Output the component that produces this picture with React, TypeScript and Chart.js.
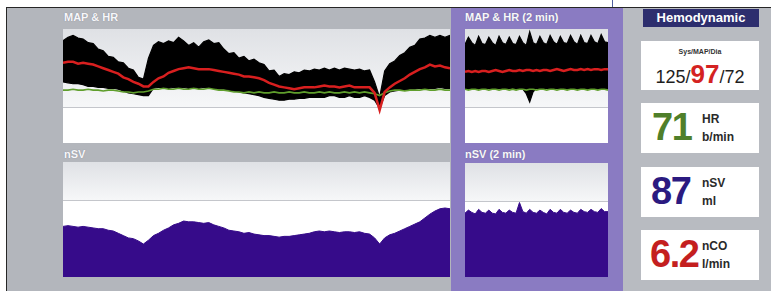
import React, { useEffect, useRef } from "react";
import { Chart, registerables } from "chart.js";

Chart.register(...registerables);

// ---- Trend (long window) data ----
const mapSys = [
  122, 126, 128, 125, 124, 120, 119, 113, 111, 105,
  104, 99, 98, 92, 90, 82, 80, 103, 117, 121,
  119, 122, 120, 126, 122, 117, 120, 115, 121, 123,
  119, 120, 113, 108, 109, 103, 105, 100, 102, 98,
  96, 89, 90, 83, 86, 85, 88, 87, 90, 89,
  91, 90, 92, 90, 92, 90, 92, 91, 90, 91,
  89, 90, 77, 60, 89, 97, 100, 106, 109, 115,
  117, 124, 125, 128, 126, 128, 126, 128,
];
const mapDia = [
  77, 76, 75, 75, 74, 72, 72, 71, 71, 70,
  70, 69, 67, 65, 64, 63, 62, 62, 70, 71,
  71, 70, 71, 70, 71, 70, 71, 70, 71, 70,
  70, 69, 69, 68, 67, 66, 65, 64, 63, 62,
  60, 59, 58, 57, 57, 58, 58, 59, 59, 60,
  60, 60, 60, 62, 62, 60, 60, 62, 60, 60,
  62, 60, 57, 48, 62, 66, 67, 68, 68, 69,
  69, 70, 70, 70, 70, 71, 70, 70,
];
const mapMean = [
  98, 99, 99, 97, 98, 97, 96, 94, 92, 90,
  88, 86, 82, 80, 77, 75, 72, 72, 77, 81,
  83, 87, 89, 91, 92, 93, 92, 91, 91, 91,
  90, 89, 88, 87, 86, 85, 83, 83, 82, 81,
  79, 76, 74, 72, 71, 70, 69, 70, 71, 71,
  71, 72, 73, 72, 72, 71, 72, 73, 71, 71,
  71, 71, 65, 46, 66, 71, 75, 78, 81, 85,
  88, 91, 93, 96, 94, 95, 93, 92,
];
const hrTrend = [
  68, 68, 69, 68, 68, 69, 68, 68, 67, 68, 68, 67,
  66, 66, 65, 66, 66, 67,
  69, 69, 70, 69, 69, 70, 69, 69, 70, 69, 69, 70, 69, 68, 68, 67,
  66, 66, 65, 66, 65, 66, 65, 65, 66, 65, 65, 66, 65, 65, 66, 65, 65, 66, 65, 66, 65, 65, 66, 65, 66, 65, 66, 65,
  64, 62, 65,
  67, 68, 68, 67, 68, 68, 68, 69, 68, 68, 69, 68, 68,
];
const nsvTrend = [
  66, 67, 66, 65, 66, 65, 64, 63, 63, 61,
  60, 57, 54, 51, 50, 47, 43, 48, 54, 57,
  61, 64, 68, 70, 73, 72, 72, 71, 70, 71,
  68, 66, 64, 61, 60, 59, 57, 58, 56, 55,
  54, 54, 53, 52, 53, 53, 54, 55, 56, 57,
  59, 60, 59, 60, 59, 58, 59, 59, 58, 59,
  57, 56, 51, 43, 51, 55, 57, 60, 63, 66,
  69, 72, 77, 82, 86, 89, 90, 89,
];

// ---- 2 min window data ----
const sys2 = [
  118, 126, 120, 117, 127, 119, 118, 126, 120, 117, 127, 120, 118, 126, 119,
  118, 127, 120, 117, 132, 120, 118, 127, 120, 118, 128, 121, 118, 127, 120,
  119, 128, 121, 118, 128, 120, 119, 128, 121, 119, 129, 121, 120,
];
const dia2 = [
  70, 69, 70, 70, 69, 70, 69, 70, 70, 69,
  70, 70, 69, 70, 70, 69, 70, 69, 64, 55,
  66, 70, 69, 70, 70, 69, 70, 70, 69, 70,
  69, 70, 70, 69, 70, 70, 69, 70, 70, 69,
  70, 70, 69,
];
const map2 = [
  88, 89, 88, 89, 88, 89, 89, 88, 89, 90,
  89, 88, 89, 90, 89, 89, 90, 89, 90, 90,
  89, 90, 89, 90, 90, 89, 90, 91, 90, 89,
  90, 91, 90, 90, 91, 90, 91, 90, 91, 91,
  90, 91, 91,
];
const hr2 = [
  69, 68, 69, 69, 68, 69, 69, 68, 69, 69,
  68, 69, 69, 68, 69, 68, 69, 69, 68, 69,
  69, 68, 69, 69, 68, 69, 69, 68, 69, 69,
  68, 69, 69, 68, 69, 69, 68, 69, 69, 68,
  69, 69, 68,
];
const nsv2 = [
  84, 88, 85, 83, 89, 85, 84, 88, 84, 83, 89, 85, 84, 88, 85,
  84, 98, 86, 84, 89, 85, 84, 88, 85, 83, 89, 85, 84, 89, 85,
  84, 88, 85, 84, 89, 86, 85, 89, 86, 85, 90, 86, 86,
];

const trendLabels = mapSys.map((_, i) => `${i}`);
const shortLabels = sys2.map((_, i) => `${i * 3}s`);

// Current values shown on the right
const sysNow = "125";
const mapNow = "97";
const diaNow = "72";
const hrNow = "71";
const nsvNow = "87";
const ncoNow = "6.2";

const MAP_MIN = 10;
const MAP_MAX = 135;
const MAP_REF = 50;
const SV_MIN = 0;
const SV_MAX = 150;
const SV_REF = 100;

const FONT = "'Liberation Sans', Arial, Helvetica, sans-serif";

const plotBgPlugin = {
  id: "plotBg",
  beforeDraw(chart: any, _args: any, opts: any) {
    const { ctx, chartArea: a, scales } = chart;
    const yRef = Math.round(scales.y.getPixelForValue(opts.refValue));
    ctx.save();
    const g = ctx.createLinearGradient(0, a.top, 0, yRef);
    g.addColorStop(0, "#dfe1e5");
    g.addColorStop(1, "#f6f7f8");
    ctx.fillStyle = g;
    ctx.fillRect(a.left, a.top, a.right - a.left, yRef - a.top);
    ctx.fillStyle = "#ffffff";
    ctx.fillRect(a.left, yRef, a.right - a.left, a.bottom - yRef);
    ctx.strokeStyle = "#c4c6cb";
    ctx.lineWidth = 1;
    ctx.beginPath();
    ctx.moveTo(a.left, yRef + 0.5);
    ctx.lineTo(a.right, yRef + 0.5);
    ctx.stroke();
    ctx.restore();
  },
};

function mapDatasets(sys: number[], dia: number[], mean: number[], hr: number[]) {
  return [
    { data: mean, borderColor: "#d81f1f", borderWidth: 2.5, fill: false, order: 0 },
    { data: hr, borderColor: "#5f9e2c", borderWidth: 1.6, fill: false, order: 1 },
    { data: sys, borderColor: "#000000", backgroundColor: "#000000", borderWidth: 1.2, fill: "+1", order: 2 },
    { data: dia, borderColor: "#000000", borderWidth: 1.2, fill: false, order: 3 },
  ];
}

function svDatasets(sv: number[]) {
  return [
    { data: sv, borderColor: "#360b8a", backgroundColor: "#360b8a", borderWidth: 1, fill: "start", order: 0 },
  ];
}

type PlotProps = {
  left: number;
  top: number;
  width: number;
  height: number;
  labels: string[];
  datasets: any[];
  yMin: number;
  yMax: number;
  refValue: number;
};

function Plot({ left, top, width, height, labels, datasets, yMin, yMax, refValue }: PlotProps) {
  const ref = useRef<HTMLCanvasElement>(null);
  useEffect(() => {
    const chart = new Chart(ref.current as HTMLCanvasElement, {
      type: "line",
      data: { labels, datasets },
      options: {
        animation: false,
        responsive: false,
        devicePixelRatio: 1,
        events: [],
        layout: { padding: 0 },
        elements: { point: { radius: 0 }, line: { tension: 0 } },
        scales: {
          x: { type: "category", display: false, offset: false },
          y: { display: false, min: yMin, max: yMax },
        },
        plugins: {
          legend: { display: false },
          tooltip: { enabled: false },
          plotBg: { refValue },
        } as any,
      },
      plugins: [plotBgPlugin as any],
    });
    return () => chart.destroy();
  }, []);
  return (
    <canvas
      ref={ref}
      width={width}
      height={height}
      style={{ position: "absolute", left, top, width, height, display: "block" }}
    />
  );
}

const abs = (s: React.CSSProperties): React.CSSProperties => ({ position: "absolute", ...s });

function Title({ left, top, text }: { left: number; top: number; text: string }) {
  return (
    <div
      style={abs({
        left,
        top,
        fontFamily: FONT,
        fontWeight: 700,
        fontSize: 11,
        lineHeight: "11px",
        color: "#f7f7fa",
        whiteSpace: "nowrap",
        textShadow: "0 0 1px rgba(90,90,110,0.6)",
      })}
    >
      {text}
    </div>
  );
}

function ValueBox({
  top,
  value,
  color,
  l1,
  l2,
  valueLeft,
}: {
  top: number;
  value: string;
  color: string;
  l1: string;
  l2: string;
  valueLeft: number;
}) {
  return (
    <>
      <div style={abs({ left: 641, top, width: 118, height: 50, background: "#ffffff" })} />
      <div
        style={abs({
          left: valueLeft,
          top: top + 5,
          fontFamily: FONT,
          fontWeight: 700,
          fontSize: 38,
          lineHeight: "38px",
          letterSpacing: -1.5,
          color,
          whiteSpace: "nowrap",
        })}
      >
        {value}
      </div>
      <div
        style={abs({
          left: 702,
          top: top + 10,
          fontFamily: FONT,
          fontWeight: 700,
          fontSize: 12,
          lineHeight: "12px",
          color: "#2a2a2a",
          whiteSpace: "nowrap",
        })}
      >
        {l1}
      </div>
      <div
        style={abs({
          left: 702,
          top: top + 28,
          fontFamily: FONT,
          fontWeight: 700,
          fontSize: 12,
          lineHeight: "12px",
          color: "#2a2a2a",
          whiteSpace: "nowrap",
        })}
      >
        {l2}
      </div>
    </>
  );
}

export default function App() {
  return (
    <div
      style={{
        position: "fixed",
        left: 0,
        top: 0,
        width: 771,
        height: 291,
        background: "#ffffff",
        overflow: "hidden",
        fontFamily: FONT,
      }}
    >
      {/* frame */}
      <div style={abs({ left: 7, top: 8, width: 445, height: 283, background: "#b3b6bc" })} />
      <div style={abs({ left: 451, top: 8, width: 172, height: 283, background: "#8a7bc2" })} />
      <div style={abs({ left: 623, top: 8, width: 148, height: 283, background: "#b8bbc1" })} />
      <div style={abs({ left: 6, top: 7, width: 765, height: 1, background: "#262626" })} />
      <div style={abs({ left: 6, top: 7, width: 1, height: 284, background: "#262626" })} />
      <div style={abs({ left: 612, top: 0, width: 1, height: 7, background: "#4f5f9f" })} />

      {/* titles */}
      <Title left={64} top={12} text="MAP & HR" />
      <Title left={64} top={149} text="nSV" />
      <Title left={465} top={12} text="MAP & HR (2 min)" />
      <Title left={465} top={149} text="nSV (2 min)" />

      {/* plots */}
      <Plot
        left={63}
        top={29}
        width={387}
        height={114}
        labels={trendLabels}
        datasets={mapDatasets(mapSys, mapDia, mapMean, hrTrend)}
        yMin={MAP_MIN}
        yMax={MAP_MAX}
        refValue={MAP_REF}
      />
      <Plot
        left={63}
        top={162}
        width={387}
        height={115}
        labels={trendLabels}
        datasets={svDatasets(nsvTrend)}
        yMin={SV_MIN}
        yMax={SV_MAX}
        refValue={SV_REF}
      />
      <Plot
        left={465}
        top={29}
        width={143}
        height={114}
        labels={shortLabels}
        datasets={mapDatasets(sys2, dia2, map2, hr2)}
        yMin={MAP_MIN}
        yMax={MAP_MAX}
        refValue={MAP_REF}
      />
      <Plot
        left={465}
        top={163}
        width={143}
        height={114}
        labels={shortLabels}
        datasets={svDatasets(nsv2)}
        yMin={SV_MIN}
        yMax={SV_MAX}
        refValue={SV_REF}
      />

      {/* right panel */}
      <div
        style={abs({
          left: 643,
          top: 9,
          width: 116,
          height: 18,
          background: "#2d2e6e",
          color: "#ffffff",
          fontWeight: 700,
          fontSize: 13,
          lineHeight: "18px",
          textAlign: "center",
        })}
      >
        Hemodynamic
      </div>

      <div style={abs({ left: 641, top: 41, width: 118, height: 49, background: "#ffffff" })} />
      <div
        style={abs({
          left: 641,
          top: 48,
          width: 118,
          textAlign: "center",
          fontSize: 7,
          lineHeight: "8px",
          fontWeight: 700,
          color: "#333",
        })}
      >
        Sys/MAP/Dia
      </div>
      <div
        style={abs({
          left: 641,
          top: 61,
          width: 118,
          height: 26,
          display: "flex",
          justifyContent: "center",
          alignItems: "baseline",
          lineHeight: "26px",
          whiteSpace: "nowrap",
        })}
      >
        <span style={{ fontSize: 18, color: "#1e1e1e" }}>{sysNow}/</span>
        <span style={{ fontSize: 26, fontWeight: 700, color: "#d42222" }}>{mapNow}</span>
        <span style={{ fontSize: 18, color: "#1e1e1e" }}>/{diaNow}</span>
      </div>

      <ValueBox top={103} value={hrNow} color="#4f7f2a" l1="HR" l2="b/min" valueLeft={652} />
      <ValueBox top={167} value={nsvNow} color="#2b1a80" l1="nSV" l2="ml" valueLeft={651} />
      <ValueBox top={230} value={ncoNow} color="#c41f1f" l1="nCO" l2="l/min" valueLeft={650} />
    </div>
  );
}
